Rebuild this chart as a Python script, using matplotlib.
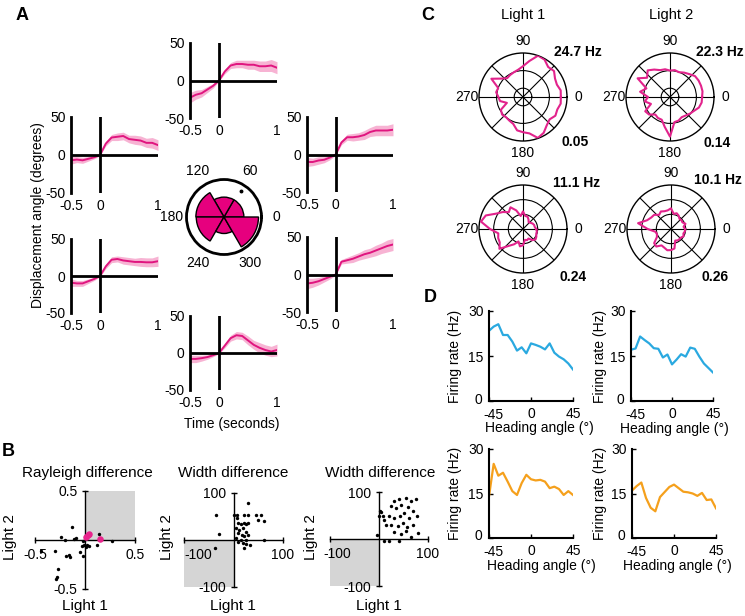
import numpy as np
import matplotlib
matplotlib.use("Agg")
import matplotlib.pyplot as plt
from matplotlib.transforms import ScaledTranslation

plt.rcParams.update({
    "font.family": ["Liberation Sans", "DejaVu Sans"],
    "font.size": 10,
    "axes.unicode_minus": False,
})

# ---------------- data ----------------
# Panel A: displacement angle time courses (mean and sem, degrees)
TIME = [-0.5, -0.4, -0.3, -0.2, -0.1, 0.0, 0.1, 0.2, 0.3, 0.4, 0.5, 0.6, 0.7, 0.8, 0.9, 1.0]
TOP_MEAN = [-23, -19, -17, -12, -7, 0, 12, 20, 22, 22, 21, 21, 19, 19, 20, 17]
TOP_SEM = [7, 6, 5, 4, 3, 1, 3, 4, 5, 5, 6, 6, 7, 7, 8, 8]
UL_MEAN = [-7, -6, -7, -5, -3, 0, 15, 23, 24, 25, 21, 20, 19, 16, 16, 13]
UL_SEM = [5, 4, 4, 3, 2, 1, 3, 4, 5, 5, 5, 6, 6, 6, 7, 7]
UR_MEAN = [-10, -10, -8, -7, -4, 0, 16, 23, 23, 24, 26, 30, 32, 32, 32, 33]
UR_SEM = [6, 5, 5, 4, 3, 1, 3, 4, 5, 5, 6, 6, 7, 7, 7, 8]
LL_MEAN = [-9, -10, -10, -7, -4, 0, 13, 22, 23, 21, 20, 19, 19, 18.5, 18.5, 20]
LL_SEM = [5, 4, 4, 3, 2, 1, 3, 4, 4, 5, 5, 5, 6, 6, 6, 7]
LR_MEAN = [-12, -11, -9, -6, -3, 0, 17, 19, 21, 24, 27, 29, 32, 35, 38, 40]
LR_SEM = [7, 6, 5, 4, 3, 1, 3, 4, 5, 5, 6, 6, 7, 7, 8, 8]
BC_MEAN = [-8, -8, -7, -5.5, -3, 0, 10, 20, 24, 23, 17, 11, 7, 4, 2, 4]
BC_SEM = [5, 5, 4, 3, 2, 1, 3, 4, 5, 5, 6, 6, 7, 7, 7, 8]

# Panel A: rose histogram (normalised counts)
ROSE_CENTERS = [30, 90, 150, 210, 270, 330]
ROSE_R = [0.53, 0.53, 0.75, 0.74, 0.44, 0.92]
ROSE_LABELS = ["0", "60", "120", "180", "240", "300"]
MEAN_DOT = (57, 0.82)

# Panel B
RAY_X = [-0.13, -0.24, -0.20, -0.11, -0.09, -0.44, -0.30, -0.19, -0.16, -0.15, -0.05, -0.02,
         -0.03, -0.01, 0.01, 0.02, 0.04, -0.02, -0.27, -0.28, -0.29, 0.14, 0.12, 0.27]
RAY_Y = [0.13, 0.03, 0.00, 0.01, 0.02, -0.11, -0.11, -0.16, -0.15, -0.17, -0.12, -0.16,
         -0.06, -0.05, -0.07, -0.05, -0.06, -0.01, -0.30, -0.38, -0.40, 0.06, -0.05, -0.01]
RAY_MX = [0.01, 0.03, 0.04, 0.15]
RAY_MY = [0.03, 0.05, 0.06, 0.01]
W1_X = [29, -35, 2, 7, 22, 29, 45, 55, 49, 62, -30, -37, 10, 15, 21, 25, 30, 5, 12, 19,
        25, 10, 17, 22, 29, 5, 15, 25, 9, 19, 25, 34, 22, 62, 7]
W1_Y = [78, 54, 54, 54, 54, 54, 54, 54, 43, 41, 12, -18, 36, 35, 36, 35, 36, 25, 22, 25,
        18, 14, 11, 9, 11, 4, 1, 1, -4, -6, -9, -11, -18, 0, 46]
W2_X = [2, 5, 1, 8, 10, 15, -5, 10, 20, 30, 40, 55, 65, 75, 25, 35, 45, 60, 70, 20, 30, 42,
        52, 62, 78, 25, 38, 48, 58, 70, 30, 45, 55, 65, 80, 40]
W2_Y = [60, 58, 50, 48, 40, 30, 8, -4, -4, 80, 85, 88, 80, 85, 70, 65, 72, 68, 60, 50, 45, 50,
        55, 45, 50, 30, 28, 35, 25, 30, 15, 10, 18, 5, 12, -5]

# Panel C: tuning curves (rate / peak rate), 0..350 deg step 10
C_ANGLES = list(range(0, 360, 10))
C1 = [0.86, 0.87, 0.82, 0.84, 0.92, 0.89, 0.98, 1.0, 0.83, 0.7, 0.63, 0.6, 0.58, 0.56, 0.65, 0.83,
      0.6, 0.62, 0.56, 0.53, 0.39, 0.58, 0.62, 0.6, 0.62, 0.65, 0.77, 0.8, 0.84, 0.99, 0.94, 0.84,
      0.79, 0.85, 0.83, 0.87]
C2 = [0.73, 0.75, 0.75, 0.75, 0.74, 0.68, 0.64, 0.6, 0.62, 0.6, 0.64, 0.65, 0.72, 0.79, 0.68, 0.85,
      0.57, 0.69, 0.5, 0.58, 0.46, 0.65, 0.62, 0.52, 0.55, 0.55, 0.69, 0.9, 0.58, 0.57, 0.53, 0.55,
      0.59, 0.63, 0.7, 0.73]
C3 = [0.3, 0.27, 0.27, 0.25, 0.22, 0.2, 0.25, 0.3, 0.3, 0.4, 0.3, 0.45, 0.57, 0.5, 0.6, 0.7,
      0.9, 0.97, 0.75, 0.57, 0.6, 0.61, 0.7, 0.5, 0.4, 0.3, 0.4, 0.37, 0.25, 0.27, 0.25, 0.33,
      0.37, 0.35, 0.32, 0.32]
C4 = [0.32, 0.29, 0.35, 0.3, 0.31, 0.3, 0.35, 0.38, 0.35, 0.47, 0.43, 0.43, 0.46, 0.42, 0.5, 0.52,
      0.58, 0.76, 0.53, 0.36, 0.34, 0.37, 0.5, 0.52, 0.43, 0.45, 0.49, 0.48, 0.45, 0.28, 0.3, 0.3,
      0.3, 0.33, 0.3, 0.32]
C_TICK_LABELS = ["0", "", "90", "", "270", "", "180", ""]
C_PEAK = ["24.7 Hz", "22.3 Hz", "11.1 Hz", "10.1 Hz"]
C_STAT = ["0.05", "0.14", "0.24", "0.26"]

# Panel D: firing rate vs heading angle
HEADING = list(range(-45, 50, 5))
D1 = [23.4, 24.8, 25.6, 22.0, 22.0, 19.8, 16.8, 17.9, 15.9, 19.2, 18.7, 18.1, 17.2, 19.2,
      16.1, 14.8, 13.9, 12.5, 10.5]
D2 = [17.1, 17.5, 21.5, 20.3, 19.2, 17.6, 17.4, 14.5, 15.5, 12.2, 13.8, 15.6, 14.8, 17.8,
      17.4, 14.8, 12.5, 11.0, 9.5]
D3 = [14.0, 25.0, 21.0, 22.0, 19.0, 15.8, 14.5, 18.5, 21.3, 19.8, 19.4, 19.6, 19.0, 16.8,
      17.3, 16.5, 14.5, 15.8, 14.5]
D4 = [16.0, 17.5, 18.7, 13.5, 10.2, 9.0, 13.8, 15.5, 17.2, 18.0, 16.8, 15.6, 15.4, 15.0,
      14.2, 15.2, 12.8, 13.0, 10.0]

MAG = "#E0157F"
MAG_SHADE = "#F6A6CC"
ROSE_COL = "#E6007E"
CMAG = "#E2238C"
BLUE = "#2AA9E0"
ORANGE = "#F5A01C"

W, H = 745, 616
fig = plt.figure(figsize=(W / 100, H / 100), dpi=100)


def fax(x0, y0, x1, y1, **kw):
    return fig.add_axes([x0 / W, 1 - y1 / H, (x1 - x0) / W, (y1 - y0) / H], **kw)


def ftext(x, y, s, **kw):
    kw.setdefault("ha", "center")
    kw.setdefault("va", "center")
    fig.text(x / W, 1 - y / H, s, **kw)


def shift_label(lbl, dx_px, dy_px=0):
    lbl.set_transform(lbl.get_transform()
                      + ScaledTranslation(dx_px / 100, -dy_px / 100, fig.dpi_scale_trans))


# ---------------- Panel A ----------------
def ts_panel(box, mean, sem):
    ax = fax(*box)
    t = np.array(TIME)
    m = np.array(mean, dtype=float)
    s = np.array(sem, dtype=float)
    ax.fill_between(t, m - s, m + s, color=MAG_SHADE, lw=0, alpha=0.85, zorder=1)
    ax.plot(t, m, color=MAG, lw=1.4, zorder=2)
    ax.axhline(0, color="k", lw=2, zorder=3)
    ax.axvline(0, color="k", lw=2, zorder=3)
    ax.set_xlim(-0.5, 1)
    ax.set_ylim(-50, 50)
    for sp in ["top", "right", "bottom"]:
        ax.spines[sp].set_visible(False)
    ax.spines["left"].set_linewidth(2)
    ax.set_yticks([-50, 0, 50])
    ax.set_yticklabels(["-50", "0", "50"])
    ax.set_xticks([-0.5, 0, 1])
    ax.set_xticklabels(["-0.5", "0", "1"])
    ax.tick_params(length=0, pad=4, labelsize=10)
    ax.patch.set_alpha(0)
    return ax


ts_panel((190, 43, 277, 118), TOP_MEAN, TOP_SEM)
ts_panel((71, 117, 158, 193), UL_MEAN, UL_SEM)
ts_panel((307, 117, 393, 192), UR_MEAN, UR_SEM)
ts_panel((71, 239, 158, 313), LL_MEAN, LL_SEM)
ts_panel((307, 237, 393, 312), LR_MEAN, LR_SEM)
ts_panel((190, 316, 277, 390), BC_MEAN, BC_SEM)

ftext(38, 215, "Displacement angle (degrees)", rotation=90)
ftext(232, 424, "Time (seconds)")

# rose plot
cx, cy, R = 224, 217, 37.5
pax = fax(cx - R, cy - R, cx + R, cy + R, projection="polar")
pax.bar(np.deg2rad(ROSE_CENTERS), ROSE_R, width=np.deg2rad(60), color=ROSE_COL,
        edgecolor="k", lw=1.0, zorder=2)
pax.plot(np.deg2rad(MEAN_DOT[0]), MEAN_DOT[1], "o", color="k", ms=1.8, zorder=3)
pax.set_ylim(0, 1)
pax.set_yticks([])
pax.set_xticks(np.deg2rad(range(0, 360, 60)))
pax.set_xticklabels(ROSE_LABELS)
pax.grid(False)
pax.spines["polar"].set_linewidth(2)
pax.tick_params(axis="x", direction="in", length=3, width=1.5, pad=4, labelsize=10)

# ---------------- Panel B ----------------
def quad_panel(box, xs, ys, lim, shade, labels, xshift=0):
    ax = fax(*box)
    ax.set_xlim(-lim, lim)
    ax.set_ylim(-lim, lim)
    if shade == "upper":
        ax.fill_between([0, lim], 0, lim, color="#D5D5D5", lw=0, zorder=0)
    else:
        ax.fill_between([-lim, 0], -lim, 0, color="#D5D5D5", lw=0, zorder=0)
    ax.scatter(xs, ys, s=6, color="k", lw=0, zorder=3)
    for sp in ["top", "right"]:
        ax.spines[sp].set_visible(False)
    for sp in ["left", "bottom"]:
        ax.spines[sp].set_position(("data", 0))
        ax.spines[sp].set_linewidth(1)
    ax.set_xticks([-lim, lim])
    ax.set_xticklabels(labels)
    ax.set_yticks([-lim, lim])
    ax.set_yticklabels(labels)
    ax.tick_params(direction="inout", length=5, width=1, pad=3, labelsize=10)
    if xshift:
        shift_label(ax.get_xticklabels()[0], xshift)
    ax.patch.set_alpha(0)
    return ax


b1 = quad_panel((35, 491, 135, 589), RAY_X, RAY_Y, 0.5, "upper", ["-0.5", "0.5"])
b1.scatter(RAY_MX, RAY_MY, s=22, color="#E8258C", lw=0, zorder=4)
quad_panel((184, 493, 283, 587), W1_X, W1_Y, 100, "lower", ["-100", "100"], xshift=14)
quad_panel((330, 492, 428, 586), W2_X, W2_Y, 100, "lower", ["-100", "100"], xshift=7)

ftext(87, 473, "Rayleigh difference", fontsize=11)
ftext(233, 473, "Width difference", fontsize=11)
ftext(380, 473, "Width difference", fontsize=11)
for x in (10, 167, 311):
    ftext(x, 537, "Light 2", rotation=90, fontsize=11)
for x in (85, 233, 379):
    ftext(x, 606, "Light 1", fontsize=11)

# ---------------- Panel C ----------------
def polar_c(cx, cy, R, vals, rings):
    ax = fax(cx - R, cy - R, cx + R, cy + R, projection="polar")
    th = np.deg2rad(C_ANGLES + [C_ANGLES[0]])
    v = list(vals) + [vals[0]]
    ax.plot(th, v, color=CMAG, lw=1.5, zorder=3)
    ax.set_ylim(0, 1)
    ax.set_yticks(rings)
    ax.set_yticklabels([])
    ax.set_xticks(np.deg2rad(range(0, 360, 45)))
    ax.set_xticklabels(C_TICK_LABELS)
    ax.grid(True, color="k", lw=0.8)
    ax.spines["polar"].set_linewidth(1)
    ax.tick_params(axis="x", pad=-2, labelsize=10)
    return ax


C_POS = [(523, 97), (670, 97), (523, 229), (671, 229)]
RINGS = [[0.2, 0.6], [0.2, 0.6], [1 / 3, 2 / 3], [1 / 3, 2 / 3]]
for (px, py), vals, rings in zip(C_POS, [C1, C2, C3, C4], RINGS):
    polar_c(px, py, 44, vals, rings)

HZ_POS = [(578, 52), (720, 52), (577, 183), (718, 180)]
ST_POS = [(575, 142), (717, 143), (573, 277), (715, 277)]
for (hx, hy), s in zip(HZ_POS, C_PEAK):
    ftext(hx, hy, s, fontweight="bold")
for (sx, sy), s in zip(ST_POS, C_STAT):
    ftext(sx, sy, s, fontweight="bold")
ftext(523, 15, "Light 1", fontsize=10.5)
ftext(671, 15, "Light 2", fontsize=10.5)

# ---------------- Panel D ----------------
def line_panel(box, y, color):
    ax = fax(*box)
    ax.plot(HEADING, y, color=color, lw=1.6)
    ax.set_xlim(-45, 45)
    ax.set_ylim(0, 30)
    ax.set_xticks([-45, 0, 45])
    ax.set_xticklabels(["-45", "0", "45"])
    ax.set_yticks([0, 15, 30])
    for sp in ["top", "right"]:
        ax.spines[sp].set_visible(False)
    for sp in ["left", "bottom"]:
        ax.spines[sp].set_linewidth(1.5)
    ax.tick_params(direction="in", length=3, width=1, labelsize=10)
    ax.tick_params(axis="x", pad=4)
    ax.tick_params(axis="y", pad=4)
    shift_label(ax.get_xticklabels()[0], 4, 1)
    shift_label(ax.get_yticklabels()[0], -1, -3)
    ax.patch.set_alpha(0)
    return ax


line_panel((489, 311, 573, 401), D1, BLUE)
line_panel((631, 311, 713, 401), D2, BLUE)
line_panel((489, 449, 573, 538), D3, ORANGE)
line_panel((632, 449, 716, 538), D4, ORANGE)
for (x, y) in [(455, 356), (600, 356), (455, 493), (600, 493)]:
    ftext(x, y, "Firing rate (Hz)", rotation=90)
for (x, y) in [(539, 428), (674, 429), (541, 566), (677, 566)]:
    ftext(x, y, "Heading angle (°)")

# panel letters
ftext(22, 15, "A", fontsize=13, fontweight="bold")
ftext(8, 452, "B", fontsize=13, fontweight="bold")
ftext(428, 15, "C", fontsize=13, fontweight="bold")
ftext(430, 297, "D", fontsize=13, fontweight="bold")

fig.savefig("out.png", dpi=100)
